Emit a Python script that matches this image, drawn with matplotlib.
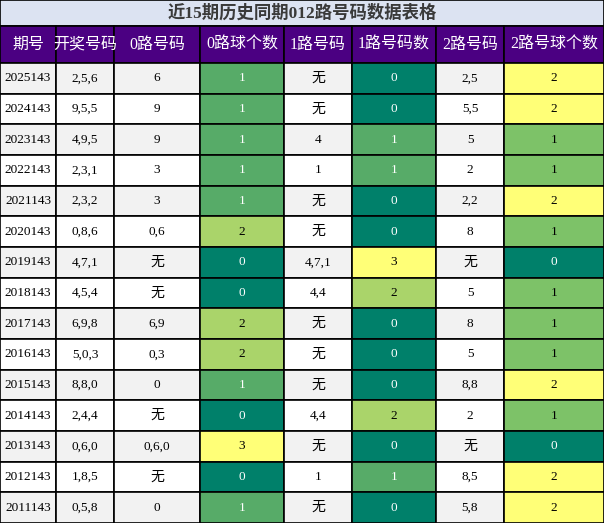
import matplotlib.pyplot as plt
from matplotlib.patches import Rectangle

plt.rcParams['font.family'] = ['Liberation Serif', 'Noto Sans CJK SC']

title = "近15期历史同期012路号码数据表格"
headers = ["期号", "开奖号码", "0路号码", "0路球个数", "1路号码", "1路号码数", "2路号码", "2路号球个数"]
issues = ["2025143", "2024143", "2023143", "2022143", "2021143", "2020143", "2019143", "2018143",
          "2017143", "2016143", "2015143", "2014143", "2013143", "2012143", "2011143"]
draws = ["2,5,6", "9,5,5", "4,9,5", "2,3,1", "2,3,2", "0,8,6", "4,7,1", "4,5,4",
         "6,9,8", "5,0,3", "8,8,0", "2,4,4", "0,6,0", "1,8,5", "0,5,8"]
road0 = ["6", "9", "9", "3", "3", "0,6", "无", "无", "6,9", "0,3", "0", "无", "0,6,0", "无", "0"]
cnt0 = [1, 1, 1, 1, 1, 2, 0, 0, 2, 2, 1, 0, 3, 0, 1]
road1 = ["无", "无", "4", "1", "无", "无", "4,7,1", "4,4", "无", "无", "无", "4,4", "无", "1", "无"]
cnt1 = [0, 0, 1, 1, 0, 0, 3, 2, 0, 0, 0, 2, 0, 1, 0]
road2 = ["2,5", "5,5", "5", "2", "2,2", "8", "无", "5", "8", "5", "8,8", "2", "无", "8,5", "5,8"]
cnt2 = [2, 2, 1, 1, 2, 1, 0, 1, 1, 1, 2, 1, 0, 2, 2]

col_x = [0, 56, 114, 200, 284, 352, 436, 504, 604]
W, H = 604, 523
title_h, head_h = 26, 37
row_h = (H - title_h - head_h) / len(issues)

c01 = {0: "#00806A", 1: "#57AB68", 2: "#AAD46A", 3: "#FFFF77"}
c2 = {0: "#00806A", 1: "#7DC268", 2: "#FFFF77"}

fig = plt.figure(figsize=(W / 100, H / 100), dpi=100)
ax = fig.add_axes([0, 0, 1, 1])
ax.set_xlim(0, W)
ax.set_ylim(H, 0)
ax.axis("off")

def cell(x0, x1, y0, y1, fc, txt, color="black", size=9.5):
    ax.add_patch(Rectangle((x0, y0), x1 - x0, y1 - y0, fc=fc, ec="black", lw=1.2))
    ax.text((x0 + x1) / 2, (y0 + y1) / 2, txt, ha="center", va="center", color=color, fontsize=size)

cell(0, W, 0, title_h, "#DCE3F2", title, "#3A3A3A", 12.5)
ax.texts[-1].set_fontweight("bold")
for j, h in enumerate(headers):
    cell(col_x[j], col_x[j + 1], title_h, title_h + head_h, "#4B0082", h, "white", 11.5)

for i in range(len(issues)):
    y0 = title_h + head_h + i * row_h
    y1 = y0 + row_h
    bg = "#F2F2F2" if i % 2 == 0 else "white"
    vals = [issues[i], draws[i], road0[i], cnt0[i], road1[i], cnt1[i], road2[i], cnt2[i]]
    for j, v in enumerate(vals):
        fc, tc = bg, "black"
        if j in (3, 5):
            fc = c01[v]
            tc = "white" if v < 2 else "black"
        elif j == 7:
            fc = c2[v]
            tc = "white" if v == 0 else "black"
        cell(col_x[j], col_x[j + 1], y0, y1, fc, str(v), tc, 9.5 if v != "无" else 10)

fig.savefig("out.png", dpi=100)
